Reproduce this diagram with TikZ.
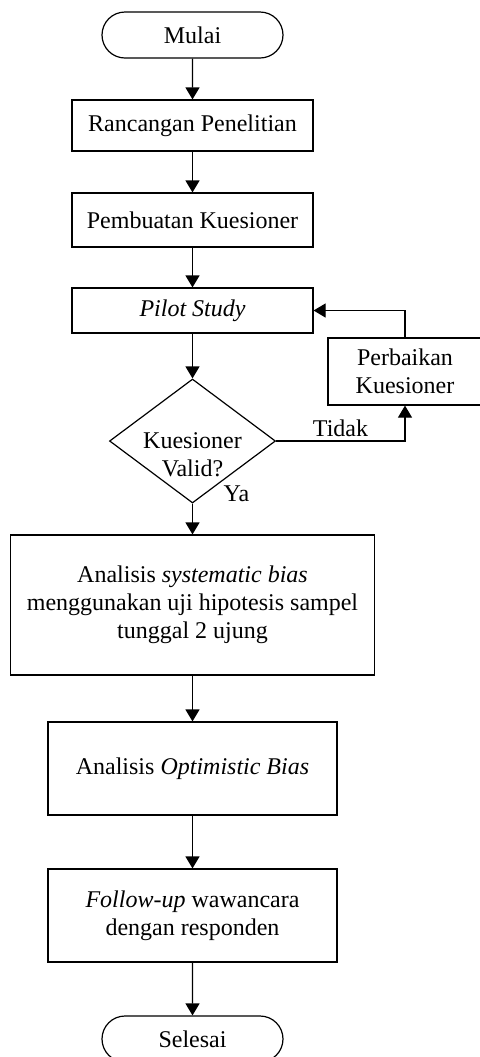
\documentclass[tikz,border=0pt]{standalone}
\usepackage{fontspec}
\setmainfont{Liberation Serif}
\usepackage{tikz}
\usetikzlibrary{
  arrows.meta,
  shapes.geometric,
  shapes.misc,
  positioning
}

\begin{document}
\begin{tikzpicture}[
      x=0.5pt, y=-0.5pt,
      >={Triangle[length=6pt,width=7pt]},
      line width=0.6pt,
      every node/.style={
        font=\fontsize{12}{14}\selectfont,
        align=center,
        inner sep=0pt
      },
      terminal/.style={
        draw, rounded rectangle,
        minimum width=90.5pt, minimum height=23pt
      },
      process/.style={
        draw, rectangle,
        minimum width=120.5pt
      },
      decision/.style={
        draw, diamond, aspect=1.34,
        minimum width=83pt, minimum height=62pt
      }
      ]
      \useasboundingbox (0,0) rectangle (479,1057);

      \node[terminal] (mulai) at (192.5,35) {Mulai};
      \node[process, minimum height=25.5pt] (rancangan) at (192.5,125.5) {Rancangan Penelitian};
      \node[process, minimum height=27pt] (kuesioner) at (192.5,220) {Pembuatan Kuesioner};
      \node[process, minimum height=22.5pt] (pilot) at (192.5,310.5) {\textit{Pilot Study}};
      \node[decision, label={[align=center,yshift=-7pt]center:Kuesioner\\Valid?}] (valid) at (192.5,441) {};
      \node[process, minimum width=77pt, minimum height=33.5pt] (perbaikan) at (405,371.5) {Perbaikan\\Kuesioner};
      \node[process, minimum width=182pt, minimum height=70pt] (sistematik) at (192.5,605)
        {Analisis \textit{systematic bias}\\menggunakan uji hipotesis sampel\\tunggal 2 ujung};
      \node[process, minimum width=144.5pt, minimum height=46.5pt] (optimis) at (192.5,768.5)
        {Analisis \textit{Optimistic Bias}};
      \node[process, minimum width=144.5pt, minimum height=46.5pt] (followup) at (192.5,915.5)
        {\textit{Follow-up} wawancara\\dengan responden};
      \node[terminal] (selesai) at (192.5,1039) {Selesai};

      \foreach \a/\b in {mulai/rancangan, rancangan/kuesioner, kuesioner/pilot,
                         pilot/valid, sistematik/optimis, optimis/followup, followup/selesai}{
        \draw[->] (\a) -- (\b);
      }
      \draw[->] (valid.south) -- (sistematik.north)
        node[at start, xshift=22pt, yshift=5pt] {Ya};
      \draw[->] (valid.east) -| (perbaikan.south)
        node[pos=0.25, above=2pt] {Tidak};
      \draw[->] (perbaikan.north) |- (pilot.east);
    \end{tikzpicture}
\end{document}
